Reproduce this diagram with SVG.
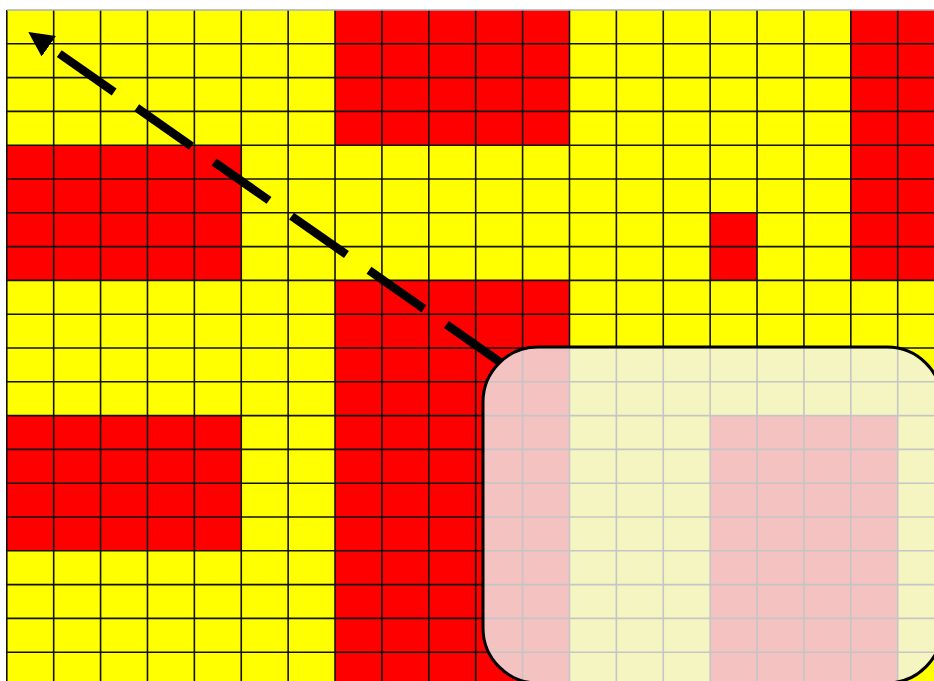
<svg xmlns="http://www.w3.org/2000/svg" width="934" height="681" viewBox="0 0 934 681">
  <style>
    .y { fill: #FFFF00; }
    .r { fill: #FF0000; }
    .grid { stroke: #111111; stroke-width: 1.6; fill: none; }
    .conn { stroke: #000000; stroke-width: 8.5; fill: none; stroke-dasharray: 67 27.5; }
    .box { fill: #F2F2F2; fill-opacity: 0.8; stroke: #000000; stroke-width: 3; }
  </style>
  <defs>
    <marker id="head" markerUnits="userSpaceOnUse" markerWidth="25" markerHeight="25" refX="0" refY="12.5" orient="auto" viewBox="0 0 25 25">
      <path d="M0,0 L25,12.5 L0,25 z" fill="#000000"/>
    </marker>
  </defs>
  <rect x="0" y="0" width="934" height="681" fill="#FFFFFF"/>
  <g id="grid">
    <rect class="y" x="6.8" y="10" width="927.2" height="671"/>
    <rect class="r" x="335.03" y="10" width="234.45" height="135.2"/>
    <rect class="r" x="850.82" y="10" width="83.18" height="270.4"/>
    <rect class="r" x="6.8" y="145.2" width="234.45" height="135.2"/>
    <rect class="r" x="710.15" y="212.8" width="46.89" height="67.6"/>
    <rect class="r" x="335.03" y="280.4" width="234.45" height="400.6"/>
    <rect class="r" x="6.8" y="415.6" width="234.45" height="135.2"/>
    <rect class="r" x="710.15" y="415.6" width="187.56" height="265.4"/>
    <path class="grid" d="M6.8,10V681 M53.69,10V681 M100.58,10V681 M147.47,10V681 M194.36,10V681 M241.25,10V681 M288.14,10V681 M335.03,10V681 M381.92,10V681 M428.81,10V681 M475.7,10V681 M522.59,10V681 M569.48,10V681 M616.37,10V681 M663.26,10V681 M710.15,10V681 M757.04,10V681 M803.93,10V681 M850.82,10V681 M897.71,10V681 M6.8,43.8H934 M6.8,77.6H934 M6.8,111.4H934 M6.8,145.2H934 M6.8,179H934 M6.8,212.8H934 M6.8,246.6H934 M6.8,280.4H934 M6.8,314.2H934 M6.8,348H934 M6.8,381.8H934 M6.8,415.6H934 M6.8,449.4H934 M6.8,483.2H934 M6.8,517H934 M6.8,550.8H934 M6.8,584.6H934 M6.8,618.4H934 M6.8,652.2H934"/>
    <path d="M6.8,10H934" stroke="#A9B0BD" stroke-width="1.6"/>
  </g>
  <g id="connectors">
    <path class="conn" d="M501.3,362.9 L48.8,46.3" marker-end="url(#head)"/>
  </g>
  <g id="callout">
    <rect class="box" x="483" y="347" width="459" height="336" rx="55" ry="55"/>
  </g>
</svg>
